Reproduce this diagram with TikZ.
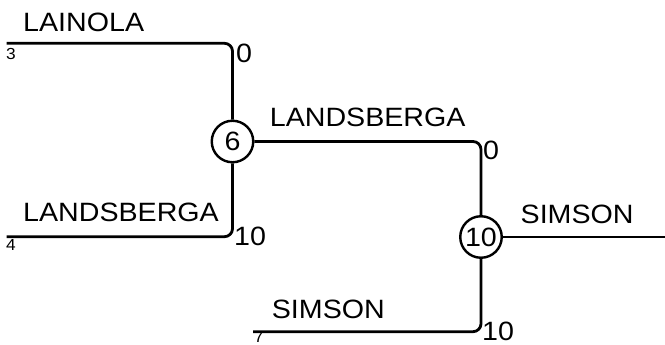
\documentclass[tikz,border=0pt]{standalone}
\usepackage{fontspec}
\setmainfont{Liberation Sans}[FakeStretch=1.08]
\begin{document}
\begin{tikzpicture}[x=1pt,y=-1pt,
  wire/.style={line width=2.8pt, rounded corners=8pt},
  junction/.style={circle, draw, line width=2.4pt, minimum size=41.5pt, inner sep=0pt, font=\fontsize{26.5}{30}\selectfont},
  teamlabel/.style={anchor=base west, inner sep=0pt, font=\fontsize{26.5}{30}\selectfont},
  scorelabel/.style={anchor=base west, inner sep=0pt, font=\fontsize{26.5}{30}\selectfont},
  seedlabel/.style={anchor=base west, inner sep=0pt, font=\fontsize{16}{18}\selectfont}]
\useasboundingbox (0,0) rectangle (665,345);
% junctions
\node[junction] (c6) at (232.5,141.5) {6};
\node[junction] (c10) at (481,237) {10};
% free ends
\coordinate (s3) at (6.5,43.3);
\coordinate (s4) at (6.5,236.7);
\coordinate (s7) at (253,331.7);
\coordinate (out) at (665,237);
% wires
\draw[wire] (s3) -| (c6);
\draw[wire] (s4) -| (c6);
\draw[wire] (c6) -| (c10);
\draw[wire] (s7) -| (c10);
\draw[wire] (c10) -- (out);
% team labels
\node[teamlabel] (t1) at (23,32) {LAINOLA};
\node[teamlabel] (t2) at (23,222) {LANDSBERGA};
\node[teamlabel] (t3) at (269.7,126.7) {LANDSBERGA};
\node[teamlabel] (t4) at (271.7,318) {SIMSON};
\node[teamlabel] (t5) at (520.5,223) {SIMSON};
% scores
\node[scorelabel] (p1) at (236,63) {0};
\node[scorelabel] (p2) at (234,245) {10};
\node[scorelabel] (p3) at (483,160) {0};
\node[scorelabel] (p4) at (482,340) {10};
% seeds
\node[seedlabel] (n3) at (6,60) {3};
\node[seedlabel] (n4) at (6,250) {4};
\node[seedlabel] (n7) at (254,342.5) {7};
\end{tikzpicture}
\end{document}
